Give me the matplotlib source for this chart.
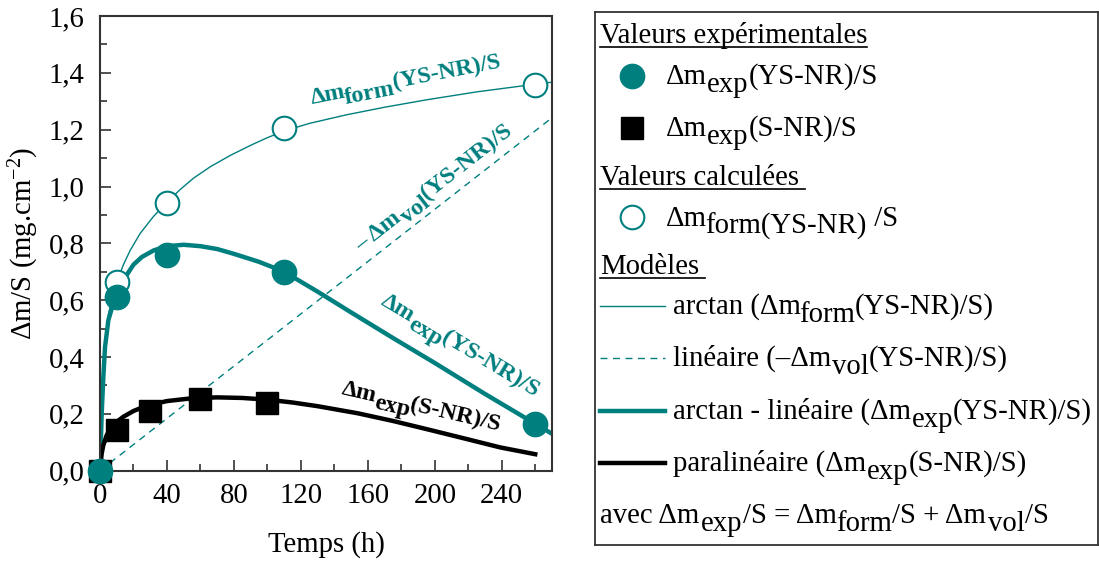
import matplotlib
matplotlib.use("Agg")
import numpy as np
import matplotlib.pyplot as plt
from matplotlib.ticker import MultipleLocator, FuncFormatter
from matplotlib.lines import Line2D
from matplotlib.transforms import offset_copy
from matplotlib.font_manager import FontProperties, findfont, get_font

# --- experimental points ---
t_exp_ys = [0, 10, 40, 110, 260]
m_exp_ys = [0.0, 0.61, 0.76, 0.70, 0.165]
t_exp_s = [0, 10, 30, 60, 100]
m_exp_s = [0.0, 0.143, 0.21, 0.252, 0.238]
# --- calculated points ---
t_form = [10, 40, 110, 260]
m_form = [0.665, 0.943, 1.207, 1.357]
# --- model curves ---
t_arctan = [0, 1, 2, 3, 5, 8, 10, 14, 18, 24, 32, 40, 48, 56, 66, 78, 90, 100, 110, 125,
            147, 170, 195, 225, 260, 270]
m_arctan = [0, 0.2, 0.335, 0.44, 0.55, 0.625, 0.665, 0.725, 0.775, 0.835, 0.895, 0.945,
            0.99, 1.03, 1.07, 1.11, 1.145, 1.172, 1.195, 1.222, 1.252, 1.279, 1.305, 1.333,
            1.36, 1.367]
t_lin = [0, 270]
m_lin = [0, 1.242]
t_diff = [0, 1, 2, 3, 5, 8, 10, 15, 20, 25, 32, 40, 50, 60, 70, 80, 95, 110, 130, 150,
          175, 200, 230, 260, 270]
m_diff = [0, 0.2, 0.33, 0.435, 0.53, 0.59, 0.615, 0.68, 0.725, 0.752, 0.775, 0.79, 0.795,
          0.79, 0.78, 0.763, 0.735, 0.70, 0.63, 0.557, 0.467, 0.379, 0.27, 0.165, 0.13]
t_para = [0, 1, 2, 4, 7, 10, 14, 20, 25, 30, 40, 55, 70, 85, 100, 115, 130, 154, 175, 196,
          220, 239, 260]
m_para = [0, 0.06, 0.09, 0.125, 0.155, 0.172, 0.19, 0.21, 0.222, 0.232, 0.245, 0.255,
          0.258, 0.256, 0.25, 0.24, 0.227, 0.202, 0.175, 0.145, 0.11, 0.082, 0.058]

teal = "#007f7f"
plt.rcParams["font.family"] = "Liberation Serif"
plt.rcParams["mathtext.fontset"] = "custom"
plt.rcParams["mathtext.rm"] = "Liberation Serif"
plt.rcParams["mathtext.it"] = "Liberation Serif:italic"
plt.rcParams["mathtext.bf"] = "Liberation Serif:bold"

W, H = 1099, 563
fs = 20.7
fig = plt.figure(figsize=(W / 100, H / 100), dpi=100)
rend = fig.canvas.get_renderer()


def advance(txt, size, weight):
    # pen advance of a string in points
    f = get_font(findfont(FontProperties(family="Liberation Serif", weight=weight)))
    f.set_size(size, 72)
    return sum(f.load_char(ord(c)).linearHoriAdvance for c in txt) / 65536


def rich(ax, x, y, parts, size, rot=0, transform=None, **kw):
    """Write text pieces one after the other; 's' pieces are lowered (subscript)."""
    base = transform if transform is not None else ax.transData
    th = np.deg2rad(rot)
    dx = dy = 0.0
    for txt, kind in parts:
        if txt.startswith("f"):
            dx -= 0.07 * size * np.cos(th)
            dy -= 0.07 * size * np.sin(th)
        shift = 0.27 * size if kind == "s" else 0.0
        ox = dx + shift * np.sin(th)
        oy = dy - shift * np.cos(th)
        tr = offset_copy(base, fig=fig, x=ox, y=oy, units="points")
        ax.text(x, y, txt, transform=tr, fontsize=size, rotation=rot,
                rotation_mode="anchor", ha="left", va="baseline", **kw)
        w = advance(txt, size, kw.get("fontweight", "normal"))
        dx += w * np.cos(th)
        dy += w * np.sin(th)


ax = fig.add_axes([100 / W, 1 - 470.7 / H, 452 / W, 454.7 / H])

ax.plot(t_lin, m_lin, color=teal, lw=1.0, ls=(0, (5, 4)))
ax.plot(t_arctan, m_arctan, color=teal, lw=1.0)
ax.plot(t_diff, m_diff, color=teal, lw=3.2)
ax.plot(t_para, m_para, color="black", lw=3.2)
ax.plot(t_exp_s, m_exp_s, ls="none", marker="s", ms=16, color="black", clip_on=False, zorder=5)
ax.plot(t_form, m_form, ls="none", marker="o", ms=17, mfc="white", mec=teal, mew=1.5,
        clip_on=False, zorder=5)
ax.plot(t_exp_ys, m_exp_ys, ls="none", marker="o", ms=17.5, color=teal, clip_on=False, zorder=6)

ax.set_xlim(0, 270)
ax.set_ylim(0, 1.6)
ax.xaxis.set_major_locator(MultipleLocator(40))
ax.xaxis.set_minor_locator(MultipleLocator(20))
ax.yaxis.set_major_locator(MultipleLocator(0.2))
ax.yaxis.set_minor_locator(MultipleLocator(0.1))
ax.yaxis.set_major_formatter(FuncFormatter(lambda v, p: f"{v:.1f}".replace(".", ",")))
ax.tick_params(which="both", direction="in", labelsize=fs, color="#333333", width=1.2)
ax.tick_params(which="major", length=8)
ax.tick_params(which="minor", length=5)
ax.tick_params(axis="x", pad=9)
ax.tick_params(axis="y", pad=11)
for s in ax.spines.values():
    s.set_linewidth(1.5)
    s.set_color("#333333")
ax.set_xlabel("Temps (h)", fontsize=fs, labelpad=16)
ax.set_ylabel("Δm/S (mg.cm$^{-2}$)", fontsize=fs, labelpad=6)

lbl = dict(fontweight="bold")
fl = 17.3
rich(ax, 126.5, 1.29, [("Δm", "n"), ("form", "s"), ("(YS-NR)/S", "n")], fl, rot=11,
     color=teal, **lbl)
rich(ax, 156, 0.77, [("– Δm", "n"), ("vol", "s"), ("(YS-NR)/S", "n")], fl, rot=38,
     color=teal, **lbl)
rich(ax, 167, 0.585, [("Δm", "n"), ("exp", "s"), ("(YS-NR)/S", "n")], fl, rot=-31,
     color=teal, **lbl)
rich(ax, 143.5, 0.27, [("Δm", "n"), ("exp", "s"), ("(S-NR)/S", "n")], fl, rot=-13,
     color="black", **lbl)

# --- legend panel drawn in pixel coordinates ---
lg = fig.add_axes([595 / W, 1 - 545 / H, 503 / W, 533 / H])
lg.set_xlim(595, 1098)
lg.set_ylim(545, 12)
lg.set_xticks([])
lg.set_yticks([])
for s in lg.spines.values():
    s.set_linewidth(1.3)
    s.set_color("#333333")

headers = [("Valeurs expérimentales", 43, 0), ("Valeurs calculées", 185, 6), ("Modèles", 274, 6)]
for txt, yb, extra in headers:
    t = lg.text(600, yb, txt, fontsize=fs, va="baseline")
    bb = t.get_window_extent(rend)
    x1 = lg.transData.inverted().transform((bb.x1, 0))[0]
    lg.add_line(Line2D([600, x1 + extra], [yb + 3.5, yb + 3.5], color="black", lw=1.2))

lg.add_line(Line2D([632], [76], marker="o", ms=17.5, color=teal, ls="none"))
rich(lg, 666, 84, [("Δm", "n"), ("exp", "s"), ("(YS-NR)/S", "n")], fs)
lg.add_line(Line2D([632], [128], marker="s", ms=16, color="black", ls="none"))
rich(lg, 666, 136, [("Δm", "n"), ("exp", "s"), ("(S-NR)/S", "n")], fs)
lg.add_line(Line2D([632], [217], marker="o", ms=17, mfc="white", mec=teal, mew=1.5, ls="none"))
rich(lg, 666, 226, [("Δm", "n"), ("form(YS-NR)", "s"), (" /S", "n")], fs)

rows = [
    (306, dict(color=teal, lw=1.0), [("arctan (Δm", "n"), ("form", "s"), ("(YS-NR)/S)", "n")], 314),
    (358, dict(color=teal, lw=1.0, ls=(0, (5, 4))),
     [("linéaire (–Δm", "n"), ("vol", "s"), ("(YS-NR)/S)", "n")], 366),
    (411, dict(color=teal, lw=3.2),
     [("arctan - linéaire (Δm", "n"), ("exp", "s"), ("(YS-NR)/S)", "n")], 419),
    (463, dict(color="black", lw=3.2),
     [("paralinéaire (Δm", "n"), ("exp", "s"), ("(S-NR)/S)", "n")], 471),
]
for yl, st, parts, yb in rows:
    lg.add_line(Line2D([600, 665], [yl, yl], **st))
    rich(lg, 673, yb, parts, fs)
rich(lg, 600, 523, [("avec Δm", "n"), ("exp", "s"), ("/S = Δm", "n"), ("form", "s"),
                    ("/S + Δm", "n"), ("vol", "s"), ("/S", "n")], fs)

fig.savefig("out.png", dpi=100)
